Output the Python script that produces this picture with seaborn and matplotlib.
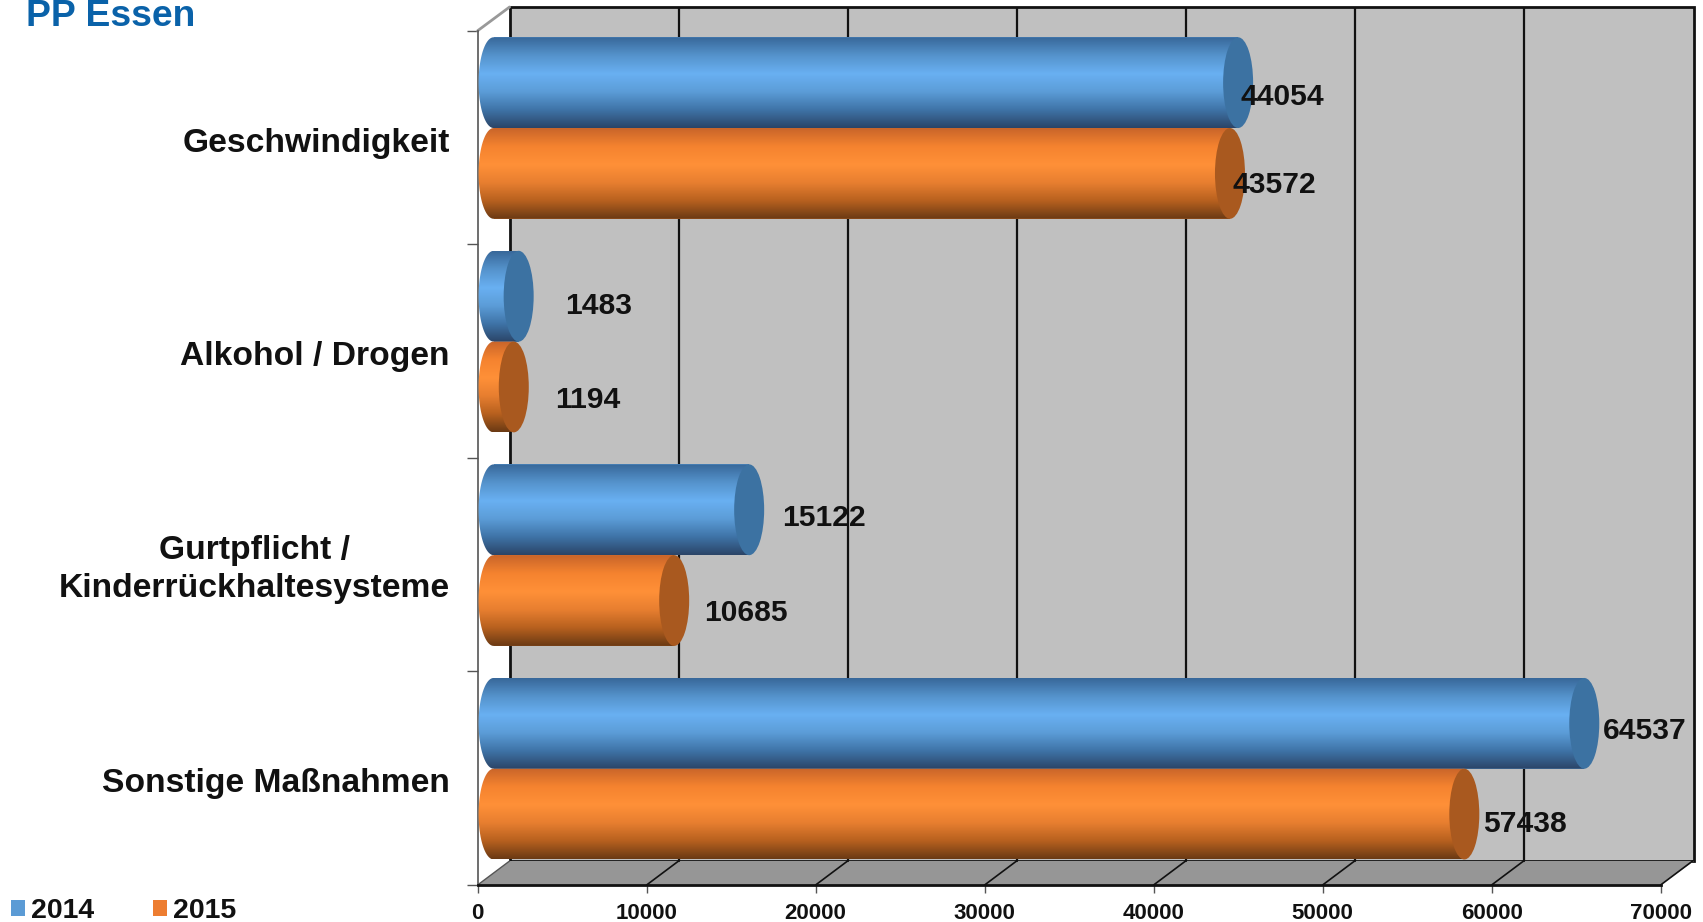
import matplotlib
matplotlib.use("Agg")
import matplotlib.pyplot as plt
import numpy as np
import pandas as pd
import seaborn as sns
from matplotlib.colors import LinearSegmentedColormap
from matplotlib.patches import Ellipse, Polygon
from matplotlib.path import Path
from matplotlib.transforms import Affine2D

categories = ["Geschwindigkeit", "Alkohol / Drogen", "Gurtpflicht /\nKinderrückhaltesysteme", "Sonstige Maßnahmen"]
years = ["2014", "2015"]
values_2014 = [44054, 1483, 15122, 64537]
values_2015 = [43572, 1194, 10685, 57438]
x_ticks = [0, 10000, 20000, 30000, 40000, 50000, 60000, 70000]

# pixel layout of the 3d box
PX_PER_UNIT = 0.0169
PX_PER_CAT = 213.5
DEPTH_X = 32 / PX_PER_UNIT
DEPTH_Y = 24 / PX_PER_CAT
CAP_W = 30 / PX_PER_UNIT
FRONT_TOP = -0.5

# label offsets from the bar end, in pixels
label_dx = {"2014": [18, 62, 49, 35], "2015": [19, 57, 46, 35]}
label_dy = {"2014": [-14, -10, -8, -8], "2015": [-12, -13, -12, -10]}
# vertical nudge of the category labels, in pixels
cat_dy = [-2, -2, 2, -2]

sns.set_style("white")
plt.rcParams["font.family"] = ["Liberation Sans", "DejaVu Sans"]
plt.rcParams["font.weight"] = "bold"

df = pd.DataFrame({
    "kategorie": categories * 2,
    "jahr": [years[0]] * 4 + [years[1]] * 4,
    "anzahl": values_2014 + values_2015,
})

fig = plt.figure(figsize=(17.03, 9.22), dpi=100)
ax = fig.add_axes([477.6 / 1703, 37 / 922, 1216.4 / 1703, 878 / 922])
ax.patch.set_alpha(0)

sns.barplot(
    data=df, y="kategorie", x="anzahl", hue="jahr", hue_order=years,
    palette={"2014": "#5B9BD5", "2015": "#ED7D31"}, saturation=1, linewidth=0,
    width=0.85, ax=ax, zorder=2,
)

x_max = 1216.4 / PX_PER_UNIT
y_top = -130.5 / PX_PER_CAT
y_floor = 3.5

# wall and floor
ax.add_patch(Polygon([(DEPTH_X, y_top), (x_max, y_top), (x_max, y_floor - DEPTH_Y), (DEPTH_X, y_floor - DEPTH_Y)],
                     fc="#C0C0C0", ec="#111111", lw=2, zorder=0, clip_on=False))
ax.add_patch(Polygon([(0, y_floor), (70000, y_floor), (x_max, y_floor - DEPTH_Y), (DEPTH_X, y_floor - DEPTH_Y)],
                     fc="#969696", ec="none", zorder=0))
for t in x_ticks[1:-1]:
    ax.plot([t + DEPTH_X, t + DEPTH_X], [y_top, y_floor - DEPTH_Y], color="#111111", lw=1.6, zorder=1)
for t in x_ticks[1:]:
    ax.plot([t, t + DEPTH_X], [y_floor, y_floor - DEPTH_Y], color="#111111", lw=1.2, zorder=1)
ax.plot([0, DEPTH_X], [FRONT_TOP, y_top], color="#999999", lw=2, zorder=1, clip_on=False)
ax.plot([0, DEPTH_X], [y_floor, y_floor - DEPTH_Y], color="#555555", lw=1, zorder=1)

cmaps = {
    "2014": LinearSegmentedColormap.from_list("b", ["#38689A", "#5593CC", "#69B0F2", "#5C9DD8", "#3F74A8", "#2B4568"]),
    "2015": LinearSegmentedColormap.from_list("o", ["#C9652A", "#F5832F", "#FF9038", "#E87F30", "#B8611F", "#6B3A14"]),
}
cap_colors = {"2014": "#3C72A2", "2015": "#A9591F"}
gradient = np.linspace(0, 1, 128).reshape(-1, 1)
mid = DEPTH_X / 2

for container, year in zip(ax.containers, years):
    for i, bar in enumerate(container):
        value = int(bar.get_width())
        bar.set_y(bar.get_y() - 9.5 / PX_PER_CAT)
        bar.set_x(mid)
        y0, h = bar.get_y(), bar.get_height()
        yc = y0 + h / 2
        end = value + mid

        th = np.linspace(np.pi / 2, 3 * np.pi / 2, 40)
        arc = np.column_stack([mid + CAP_W / 2 * np.cos(th), yc - h / 2 * np.sin(th)])
        outline = np.vstack([[[end, y0]], arc, [[end, y0 + h]], [[end, y0]]])
        im = ax.imshow(gradient, cmap=cmaps[year], aspect="auto", extent=(0, end, y0 + h, y0), zorder=3)
        im.set_clip_path(Path(outline), transform=ax.transData)

        ax.add_patch(Ellipse((end, yc), CAP_W, h, fc=cap_colors[year], ec="none", zorder=4))
        ax.annotate(
            str(value), xy=(value, yc), xycoords="data",
            xytext=(label_dx[year][i], label_dy[year][i]), textcoords="offset pixels",
            ha="left", va="center", fontsize=21.6, fontweight="bold", color="#111111", zorder=5,
            annotation_clip=False,
        )

ax.set_xlim(0, x_max)
ax.set_ylim(y_floor, y_top)

ax.set_xlabel("")
ax.set_ylabel("")
ax.set_xticks(x_ticks)
ax.set_xticklabels([str(t) for t in x_ticks], fontsize=16, fontweight="bold", color="#111111")
ax.tick_params(axis="x", bottom=True, length=6, width=1, color="#555555", pad=7)
ax.set_yticks(range(4))
ax.set_yticklabels(categories, fontsize=24.2, fontweight="bold", color="#111111",
                   multialignment="center", linespacing=1.3)
ax.tick_params(axis="y", which="major", left=False, length=0, pad=20)
ax.set_yticks(np.arange(-0.5, 4), minor=True)
ax.tick_params(axis="y", which="minor", left=True, length=8, width=1, color="#555555")
for label, dy in zip(ax.get_yticklabels(), cat_dy):
    label.set_transform(label.get_transform() + Affine2D().translate(0, dy))

for side in ["top", "right"]:
    ax.spines[side].set_visible(False)
ax.spines["left"].set_bounds(y_floor, FRONT_TOP)
ax.spines["left"].set_color("#555555")
ax.spines["left"].set_linewidth(1.2)
ax.spines["bottom"].set_bounds(0, 70000)
ax.spines["bottom"].set_color("#111111")
ax.spines["bottom"].set_linewidth(2)

sns.move_legend(
    ax, loc="lower left", bbox_to_anchor=(-0.0085, -0.030), bbox_transform=fig.transFigure,
    ncol=2, frameon=False, title=None, handlelength=0.5, handleheight=0.5,
    handletextpad=0.2, columnspacing=2.05, labelcolor="#111111",
    prop={"size": 20.5, "weight": "bold"},
)

fig.text(26 / 1703, 1 - 17 / 922, "PP Essen", fontsize=26.8, fontweight="bold", color="#0A62A9",
         ha="left", va="center")

fig.savefig("out.png", dpi=100, facecolor="white")
